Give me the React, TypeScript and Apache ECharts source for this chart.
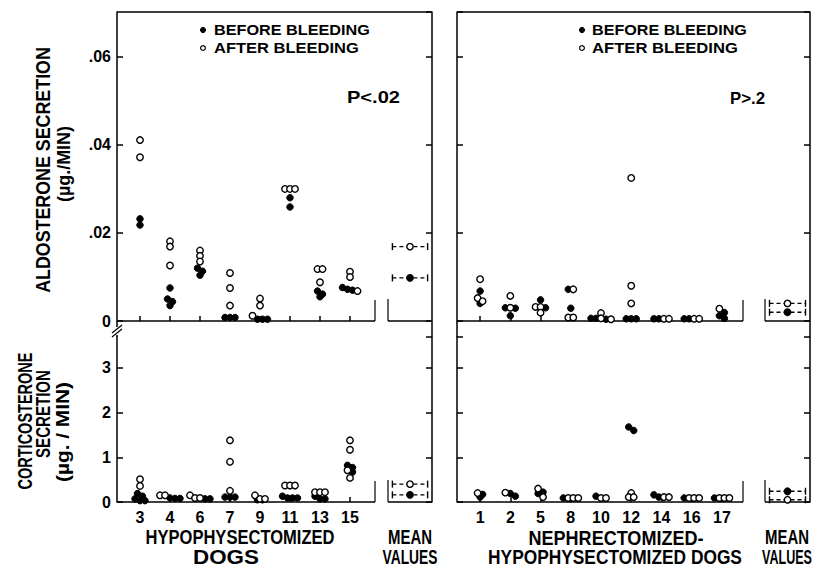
import React, { useEffect, useRef } from "react";
import * as echarts from "echarts";

// ---------- DATA ----------
const dogsL = ["3", "4", "6", "7", "9", "11", "13", "15"];
const dogsR = ["1", "2", "5", "8", "10", "12", "14", "16", "17"];

// Aldosterone secretion (µg/min), hypophysectomized dogs
const aldoBeforeL = [
  [0.0232, 0.0218],
  [0.0075, 0.005, 0.0044, 0.0035],
  [0.012, 0.0113, 0.0104],
  [0.0008, 0.0008, 0.0008],
  [0.0004, 0.0004, 0.0004],
  [0.028, 0.0259],
  [0.0068, 0.0061, 0.0055],
  [0.0076, 0.0072, 0.007],
];
const aldoAfterL = [
  [0.0411, 0.0372],
  [0.0181, 0.0169, 0.0126],
  [0.016, 0.0148, 0.0135],
  [0.0109, 0.0075, 0.0035],
  [0.0051, 0.0035, 0.0012],
  [0.03, 0.03, 0.03],
  [0.0118, 0.0118, 0.0088],
  [0.0112, 0.01, 0.0068],
];
// Aldosterone, nephrectomized-hypophysectomized dogs
const aldoBeforeR = [
  [0.0068, 0.004],
  [0.003, 0.0029, 0.0012],
  [0.0048, 0.003],
  [0.0072, 0.0029],
  [0.0006, 0.0006, 0.0004],
  [0.0005, 0.0005, 0.0005],
  [0.0005, 0.0005],
  [0.0005, 0.0005],
  [0.0019, 0.0012, 0.0006],
];
const aldoAfterR = [
  [0.0095, 0.0052, 0.0045],
  [0.0057, 0.003],
  [0.0032, 0.0032, 0.0019],
  [0.0072, 0.0008, 0.0008],
  [0.0018, 0.0006, 0.0004],
  [0.0325, 0.008, 0.004],
  [0.0005, 0.0005],
  [0.0005, 0.0005],
  [0.0028],
];
// Corticosterone secretion (µg/min)
const cortBeforeL = [
  [0.19, 0.13, 0.07, 0.03, 0.03],
  [0.09, 0.08, 0.08],
  [0.07, 0.07],
  [0.11, 0.11, 0.11],
  [0.05, 0.05],
  [0.13, 0.09, 0.09, 0.09],
  [0.13, 0.07, 0.07],
  [0.82, 0.77, 0.67],
];
const cortAfterL = [
  [0.51, 0.36],
  [0.15, 0.15],
  [0.15, 0.09, 0.09],
  [1.38, 0.9, 0.25],
  [0.15, 0.07, 0.07],
  [0.37, 0.37, 0.37],
  [0.22, 0.22, 0.22],
  [1.38, 1.17, 0.71, 0.54],
];
const cortBeforeR = [
  [0.17, 0.11],
  [0.19, 0.13],
  [0.22, 0.19],
  [0.09],
  [0.13],
  [1.68, 1.6],
  [0.16, 0.11],
  [0.09],
  [0.09],
];
const cortAfterR = [
  [0.2],
  [0.21],
  [0.3, 0.11],
  [0.09, 0.09, 0.09],
  [0.09, 0.09],
  [0.2, 0.11, 0.11],
  [0.11, 0.11],
  [0.09, 0.09, 0.09],
  [0.09, 0.09, 0.09],
];
// Mean values [before, after]
const meanAldoL = [0.0098, 0.0169];
const meanAldoR = [0.002, 0.004];
const meanCortL = [0.16, 0.4];
const meanCortR = [0.24, 0.05];

const aldoTicks = [0, 0.02, 0.04, 0.06];
const cortTicks = [0, 1, 2, 3];

// ---------- LAYOUT ----------
const TOP = { y0: 12, y1: 321, max: 0.0702 };
const BOT = { y0: 337, y1: 502, max: 3.694 };
const LP = { axis: 117, dL: 125, dR: 365, sep: 375, mL: 388, mR: 432 };
const RP = { axis: 457, dL: 465, dR: 737, sep: 743, mL: 765, mR: 810 };
const FONT = "'Liberation Sans', Arial, sans-serif";
const SYM = 6.5;
const STEP = 5;

const measureCtx =
  typeof document !== "undefined"
    ? document.createElement("canvas").getContext("2d")
    : null;
function fit(text: string, size: number, target: number) {
  if (!measureCtx) return 1;
  measureCtx.font = `bold ${size}px "Liberation Sans"`;
  const w = measureCtx.measureText(text).width;
  return w > 0 ? target / w : 1;
}

function spread(before: number[][], after: number[][], pxPerUnit: number) {
  const filled: any[] = [];
  const open: any[] = [];
  before.forEach((b, i) => {
    const pts = b
      .map((v) => ({ v, f: true }))
      .concat((after[i] || []).map((v) => ({ v, f: false })));
    pts.sort((a, c) => c.v - a.v);
    const groups: any[][] = [];
    pts.forEach((p) => {
      const g = groups[groups.length - 1];
      if (g && Math.abs((g[0].v - p.v) * pxPerUnit) < 4) g.push(p);
      else groups.push([p]);
    });
    groups.forEach((g) => {
      const n = g.length;
      g.forEach((p, k) => {
        const item = {
          value: [i, p.v],
          symbolOffset: [(k - (n - 1) / 2) * STEP, 0],
        };
        (p.f ? filled : open).push(item);
      });
    });
  });
  return { filled, open };
}

function App() {
  const ref = useRef<HTMLDivElement>(null);
  useEffect(() => {
    if (!ref.current) return;
    const chart = echarts.init(ref.current, null, { renderer: "svg" });

    const topPx = (TOP.y1 - TOP.y0) / TOP.max;
    const botPx = (BOT.y1 - BOT.y0) / BOT.max;

    const panels = [
      { P: LP, R: TOP, cats: dogsL, before: aldoBeforeL, after: aldoAfterL, mean: meanAldoL, px: topPx, labels: true, xLabels: false, ticks: aldoTicks },
      { P: LP, R: BOT, cats: dogsL, before: cortBeforeL, after: cortAfterL, mean: meanCortL, px: botPx, labels: true, xLabels: true, ticks: cortTicks },
      { P: RP, R: TOP, cats: dogsR, before: aldoBeforeR, after: aldoAfterR, mean: meanAldoR, px: topPx, labels: false, xLabels: false, ticks: aldoTicks },
      { P: RP, R: BOT, cats: dogsR, before: cortBeforeR, after: cortAfterR, mean: meanCortR, px: botPx, labels: false, xLabels: true, ticks: cortTicks },
    ];

    const grid: any[] = [];
    const xAxis: any[] = [];
    const yAxis: any[] = [];
    const series: any[] = [];

    const lineStyle = { color: "#000", width: 1.5 };

    panels.forEach((pn, idx) => {
      const gData = idx * 2;
      const gMean = idx * 2 + 1;
      const interval = pn.ticks[1] - pn.ticks[0];
      grid.push({
        left: pn.P.dL,
        top: pn.R.y0,
        width: pn.P.dR - pn.P.dL,
        height: pn.R.y1 - pn.R.y0,
      });
      grid.push({
        left: pn.P.mL,
        top: pn.R.y0,
        width: pn.P.mR - pn.P.mL,
        height: pn.R.y1 - pn.R.y0,
      });
      xAxis.push({
        gridIndex: gData,
        type: "category",
        data: pn.cats,
        boundaryGap: true,
        axisLine: { show: false },
        axisTick: { show: true, inside: true, length: 5, alignWithLabel: true, lineStyle },
        axisLabel: {
          show: pn.xLabels,
          color: "#000",
          fontFamily: FONT,
          fontWeight: "bold",
          fontSize: 16,
          margin: 7,
        },
        splitLine: { show: false },
      });
      xAxis.push({
        gridIndex: gMean,
        type: "category",
        data: ["MEAN"],
        axisLine: { show: false },
        axisTick: { show: false },
        axisLabel: { show: false },
        splitLine: { show: false },
      });
      yAxis.push({
        gridIndex: gData,
        type: "value",
        position: "left",
        offset: pn.P.dL - pn.P.axis,
        min: 0,
        max: pn.R.max,
        interval,
        axisLine: { show: true, lineStyle },
        axisTick: { show: true, inside: true, length: 6, lineStyle },
        axisLabel: {
          show: pn.labels,
          color: "#000",
          fontFamily: FONT,
          fontWeight: "bold",
          fontSize: 16,
          margin: 6,
          showMaxLabel: false,
          formatter: (v: number) => {
            if (v === 0) return "0";
            if (v < 0.5) return "." + String(Math.round(v * 100)).padStart(2, "0");
            return String(Math.round(v));
          },
        },
        splitLine: { show: false },
      });
      yAxis.push({
        gridIndex: gMean,
        type: "value",
        position: "right",
        min: 0,
        max: pn.R.max,
        interval,
        axisLine: { show: true, lineStyle },
        axisTick: { show: true, inside: true, length: 6, lineStyle },
        axisLabel: { show: false },
        splitLine: { show: false },
      });

      const sp = spread(pn.before, pn.after, pn.px);
      series.push({
        type: "scatter",
        name: "before",
        xAxisIndex: gData,
        yAxisIndex: gData,
        symbol: "circle",
        symbolSize: SYM,
        itemStyle: { color: "#000", borderColor: "#000", borderWidth: 1, opacity: 1 },
        data: sp.filled,
        z: 3,
        clip: false,
      });
      series.push({
        type: "scatter",
        name: "after",
        xAxisIndex: gData,
        yAxisIndex: gData,
        symbol: "circle",
        symbolSize: SYM,
        itemStyle: { color: "#fff", borderColor: "#000", borderWidth: 1.4, opacity: 1 },
        data: sp.open,
        z: 4,
        clip: false,
      });
      series.push({
        type: "custom",
        xAxisIndex: gMean,
        yAxisIndex: gMean,
        clip: false,
        z: 4,
        data: [
          [0, pn.mean[0], 1],
          [0, pn.mean[1], 0],
        ],
        renderItem: (params: any, api: any) => {
          const v = api.value(1);
          const c = api.coord([api.value(0), v]);
          const bw = api.size([1, 0])[0];
          const half = bw * 0.4;
          const filled = api.value(2) === 1;
          const st = { stroke: "#000", lineWidth: 1.4 };
          return {
            type: "group",
            children: [
              { type: "line", shape: { x1: c[0] - half, y1: c[1], x2: c[0] + half, y2: c[1] }, style: { ...st, lineDash: [4, 3] } },
              { type: "line", shape: { x1: c[0] - half, y1: c[1] - 3.5, x2: c[0] - half, y2: c[1] + 3.5 }, style: st },
              { type: "line", shape: { x1: c[0] + half, y1: c[1] - 3.5, x2: c[0] + half, y2: c[1] + 3.5 }, style: st },
              { type: "circle", shape: { cx: c[0], cy: c[1], r: 3.2 }, style: { fill: filled ? "#000" : "#fff", stroke: "#000", lineWidth: 1.4 } },
            ],
          };
        },
      });
    });

    // ---------- frame decorations ----------
    const ln = (x1: number, y1: number, x2: number, y2: number, w = 1.5) => ({
      type: "line",
      shape: { x1, y1, x2, y2 },
      style: { stroke: "#000", lineWidth: w },
      silent: true,
    });
    const graphics: any[] = [];
    [LP, RP].forEach((P) => {
      graphics.push(ln(P.axis, TOP.y0, P.mR, TOP.y0));
      [TOP, BOT].forEach((R) => {
        graphics.push(ln(P.axis, R.y1, P.sep, R.y1));
        graphics.push(ln(P.mL, R.y1, P.mR, R.y1));
        graphics.push(ln(P.sep, R.y1 - 21, P.sep, R.y1, 1.2));
        graphics.push(ln(P.mL, R.y1 - 22, P.mL, R.y1, 1.2));
      });
      graphics.push(ln(P.mR, TOP.y1, P.mR, BOT.y0));
    });
    graphics.push(ln(RP.axis, TOP.y1, RP.axis, BOT.y0));
    // axis break on the left axis
    graphics.push(ln(LP.axis, TOP.y1, LP.axis, TOP.y1 + 6));
    graphics.push(ln(LP.axis - 5, TOP.y1 + 12, LP.axis + 5, TOP.y1 + 4, 1.3));
    graphics.push(ln(LP.axis - 5, TOP.y1 + 16, LP.axis + 5, TOP.y1 + 8, 1.3));
    graphics.push(ln(LP.axis, TOP.y1 + 14, LP.axis, BOT.y0));

    const txt = (
      text: string,
      x: number,
      y: number,
      size: number,
      target: number,
      opts: any = {}
    ) => ({
      type: "text",
      x,
      y,
      rotation: opts.rot || 0,
      scaleX: fit(text, size, target),
      silent: true,
      style: {
        text,
        fill: "#000",
        fontFamily: FONT,
        fontWeight: "bold",
        fontSize: size,
        align: opts.align || "center",
        verticalAlign: "middle",
      },
    });
    const R90 = Math.PI / 2;
    graphics.push(txt("ALDOSTERONE SECRETION", 42, 170, 21, 246, { rot: R90 }));
    graphics.push(txt("(µg./MIN)", 63, 164, 19, 76, { rot: R90 }));
    graphics.push(txt("CORTICOSTERONE", 25, 421, 21, 137, { rot: R90 }));
    graphics.push(txt("SECRETION", 43, 414, 21, 88, { rot: R90 }));
    graphics.push(txt("(µg. / MIN)", 62, 432, 19, 100, { rot: R90 }));

    graphics.push(txt("HYPOPHYSECTOMIZED", 240, 537, 21, 189));
    graphics.push(txt("DOGS", 226, 557, 20, 66));
    graphics.push(txt("MEAN", 410, 537, 21, 44));
    graphics.push(txt("VALUES", 410, 557, 20, 55));
    graphics.push(txt("NEPHRECTOMIZED-", 616, 537, 21, 175));
    graphics.push(txt("HYPOPHYSECTOMIZED DOGS", 615, 557, 20, 254));
    graphics.push(txt("MEAN", 787, 537, 21, 44));
    graphics.push(txt("VALUES", 787, 557, 20, 50));

    // legends and p-values
    const legend = (x: number, tx: number, w1: number, w2: number) => {
      graphics.push({ type: "circle", shape: { cx: x, cy: 30, r: 2.6 }, style: { fill: "#000", stroke: "#000", lineWidth: 1 }, silent: true });
      graphics.push({ type: "circle", shape: { cx: x, cy: 48, r: 2.4 }, style: { fill: "#fff", stroke: "#000", lineWidth: 1.2 }, silent: true });
      graphics.push(txt("BEFORE BLEEDING", tx, 30, 15, w1, { align: "left" }));
      graphics.push(txt("AFTER BLEEDING", tx, 48, 15, w2, { align: "left" }));
    };
    legend(203, 214, 156, 145);
    legend(582, 592, 155, 146);
    graphics.push(txt("P<.02", 347, 98, 16, 53, { align: "left" }));
    graphics.push(txt("P>.2", 730, 98, 16, 35, { align: "left" }));

    chart.setOption({
      animation: false,
      backgroundColor: "#fff",
      grid,
      xAxis,
      yAxis,
      series,
      graphic: { elements: graphics },
    });
    return () => chart.dispose();
  }, []);
  return (
    <div
      ref={ref}
      style={{ position: "fixed", left: 0, top: 0, width: 824, height: 569, background: "#fff" }}
    />
  );
}

export default App;
